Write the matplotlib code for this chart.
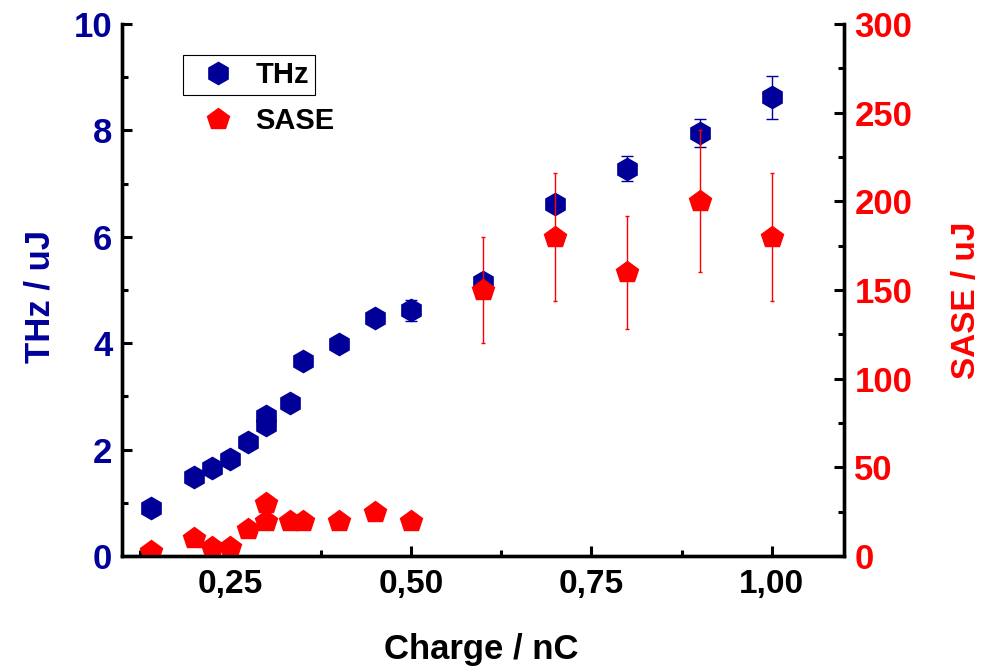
import matplotlib.pyplot as plt
from matplotlib.ticker import MultipleLocator, FuncFormatter

# THz pulse energy vs bunch charge
thz_charge = [0.14, 0.20, 0.225, 0.25, 0.275, 0.30, 0.30, 0.333, 0.35, 0.40, 0.45, 0.50,
              0.60, 0.70, 0.80, 0.90, 1.00]
thz_energy = [0.91, 1.49, 1.65, 1.82, 2.15, 2.46, 2.63, 2.88, 3.66, 3.98, 4.47, 4.62,
              5.15, 6.62, 7.28, 7.95, 8.62]
thz_err = [0, 0, 0, 0, 0, 0, 0, 0, 0, 0, 0, 0.2,
           0, 0, 0.23, 0.27, 0.4]

# SASE pulse energy vs bunch charge
sase_charge = [0.14, 0.20, 0.225, 0.25, 0.275, 0.30, 0.30, 0.333, 0.35, 0.40, 0.45, 0.50,
               0.60, 0.70, 0.80, 0.90, 1.00]
sase_energy = [3, 10, 5, 5, 15, 30, 20, 20, 20, 20, 25, 20,
               150, 180, 160, 200, 180]
sase_err = [0, 0, 0, 0, 0, 0, 0, 0, 0, 0, 0, 0,
            30, 36, 32, 40, 36]

navy = "#000099"
red = "#ff0000"
bold = dict(family=["Liberation Sans", "DejaVu Sans"], weight="bold")

fig = plt.figure(figsize=(9.85, 6.72), dpi=100)
ax = fig.add_axes([0.1239, 0.1726, 0.733, 0.7917])
ax2 = ax.twinx()

thz = ax.errorbar(thz_charge, thz_energy, yerr=thz_err, fmt="h", color=navy, ms=16,
                  mec=navy, ecolor=navy, elinewidth=1, capsize=4, capthick=1, label="THz")
sase = ax2.errorbar(sase_charge, sase_energy, yerr=sase_err, fmt="p", color=red, ms=16,
                    mec=red, ecolor=red, elinewidth=1, capsize=1.5, capthick=1, label="SASE")

ax.set_xlim(0.1, 1.1)
ax.set_ylim(0, 10)
ax2.set_ylim(0, 300)

ax.xaxis.set_major_locator(MultipleLocator(0.25))
ax.xaxis.set_minor_locator(MultipleLocator(0.125))
ax.yaxis.set_major_locator(MultipleLocator(2))
ax.yaxis.set_minor_locator(MultipleLocator(1))
ax2.yaxis.set_major_locator(MultipleLocator(50))
ax2.yaxis.set_minor_locator(MultipleLocator(25))
ax.xaxis.set_major_formatter(FuncFormatter(lambda v, p: f"{v:.2f}".replace(".", ",")))

for a in (ax, ax2):
    a.spines["top"].set_visible(False)
    for s in a.spines.values():
        s.set_linewidth(2.4)
    a.tick_params(which="both", direction="in", width=2.2)
    a.tick_params(which="major", length=7)
    a.tick_params(which="minor", length=4)

ax.tick_params(axis="x", pad=9)
ax.tick_params(axis="y", pad=7)
ax2.tick_params(axis="y", pad=7.5)

for lab in ax.get_xticklabels():
    lab.set(fontsize=24, color="black", **bold)
for lab in ax.get_yticklabels():
    lab.set(fontsize=25, color=navy, **bold)
for lab in ax2.get_yticklabels():
    lab.set(fontsize=25, color=red, **bold)

ax.set_xlabel("Charge / nC", fontsize=25, color="black", **bold)
ax.xaxis.set_label_coords(0.498, -0.145)
ax.set_ylabel("THz / uJ", fontsize=25, color=navy, va="center", **bold)
ax.yaxis.set_label_coords(-0.1136, 0.487)
ax2.set_ylabel("SASE / uJ", fontsize=24, color=red, va="center", rotation=90, **bold)
ax2.yaxis.set_label_coords(1.17, 0.481)

# framed entry for THz, unframed entry for SASE below it
leg_style = dict(loc="upper left", prop=dict(size=21, **bold), handletextpad=0.28,
                 borderpad=0.2, handlelength=2.0, borderaxespad=0)
leg1 = ax2.legend([thz[0]], ["THz"], bbox_to_anchor=(0.0845, 0.9417), frameon=True,
                  fancybox=False, edgecolor="black", framealpha=1, **leg_style)
leg1.get_frame().set_linewidth(0.8)
ax2.add_artist(leg1)
ax2.legend([sase[0]], ["SASE"], bbox_to_anchor=(0.0845, 0.855), frameon=False, **leg_style)

fig.savefig("out.png", dpi=100)
